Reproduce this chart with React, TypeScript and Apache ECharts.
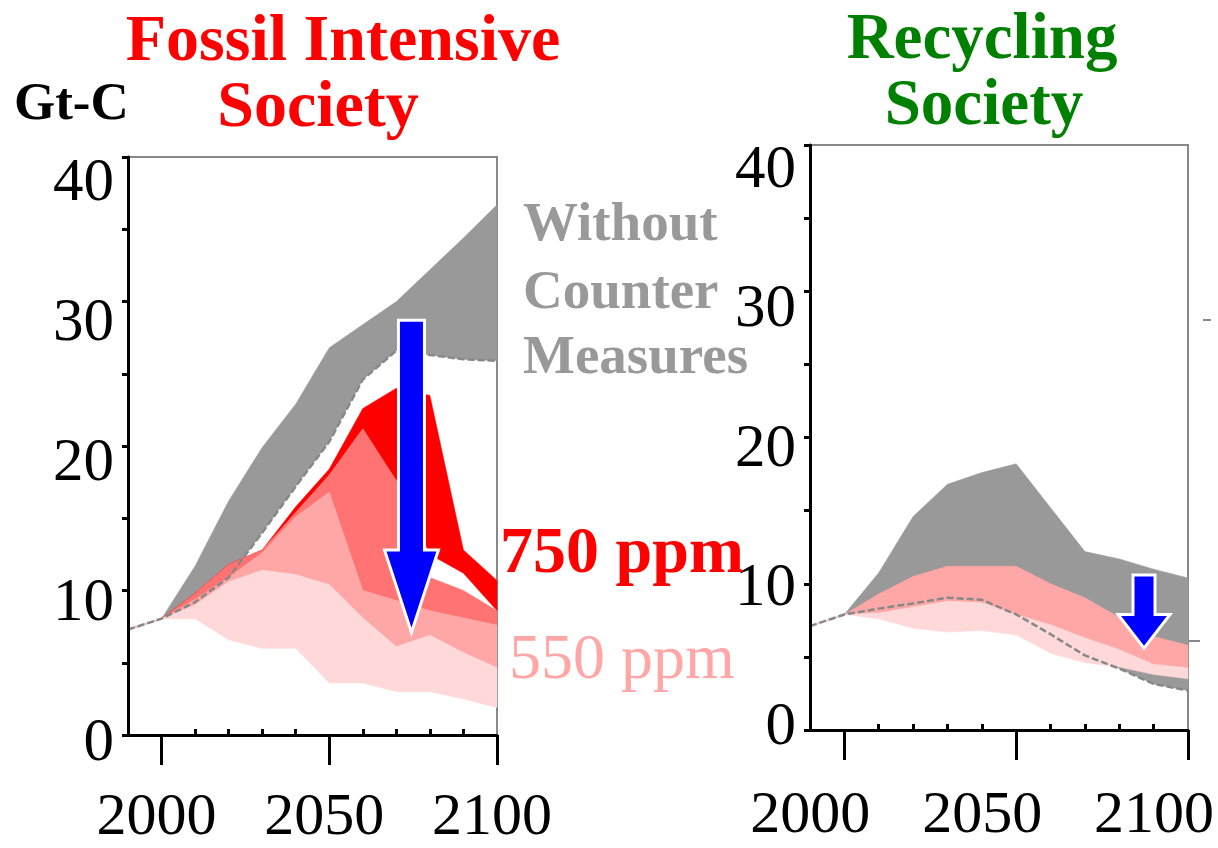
import React, { useEffect, useRef } from "react";
import * as echarts from "echarts";

const years = [1990, 2000, 2010, 2020, 2030, 2040, 2050, 2060, 2070, 2080, 2090, 2100];

// Fossil Intensive Society (Gt-C)
const fossilGrayUpper = [7.3, 8.05, 11.7, 16.2, 19.9, 22.9, 26.8, 28.4, 30.0, 32.2, 34.4, 36.7];
const fossilGrayLower = [7.3, 8.05, 9.2, 10.9, 14.0, 17.2, 20.3, 24.6, 26.6, 26.3, 26.0, 25.9];
const fossilRedUpper = [7.3, 8.05, 9.8, 11.8, 12.8, 15.8, 18.4, 22.6, 24.0, 23.5, 12.8, 10.7];
const fossilRedLower = [7.3, 8.05, 9.8, 11.8, 12.8, 15.4, 18.0, 21.2, 17.6, 12.5, 11.2, 8.6];
const fossilSalmonUpper = [7.3, 8.05, 9.8, 11.8, 12.8, 15.4, 18.0, 21.2, 17.6, 10.9, 10.0, 8.6];
const fossilLightUpper = [7.3, 8.05, 9.4, 10.9, 12.6, 15.1, 16.8, 10.0, 9.3, 8.6, 8.1, 7.6];
const fossilPaleUpper = [7.3, 8.05, 9.0, 10.6, 11.4, 11.1, 10.4, 8.1, 6.1, 6.9, 5.7, 4.65];
const fossilPaleLower = [7.3, 8.05, 8.05, 6.6, 6.0, 6.0, 3.6, 3.6, 3.0, 3.0, 2.5, 1.9];

// Recycling Society (Gt-C)
const recycleGrayUpper = [7.1, 7.9, 10.75, 14.6, 16.8, 17.6, 18.2, 15.2, 12.2, 11.7, 11.0, 10.4];
const recycleGrayLower = [7.1, 7.9, 8.3, 8.65, 9.05, 8.9, 7.9, 6.55, 5.1, 4.2, 3.15, 2.7];
const recycleLightUpper = [7.1, 7.9, 9.3, 10.5, 11.2, 11.2, 11.2, 10.0, 9.05, 7.7, 6.4, 5.8];
const recyclePaleUpper = [7.1, 7.9, 8.0, 8.4, 8.8, 8.7, 7.9, 7.2, 6.3, 5.5, 4.5, 4.25];
const recyclePaleLower = [7.1, 7.9, 7.6, 6.95, 6.7, 6.8, 6.5, 5.25, 4.6, 4.3, 3.8, 3.5];

const majorYears = [2000, 2050, 2100];
const minorYears = [2010, 2020, 2030, 2040, 2060, 2070, 2080, 2090];
const yLabels = [0, 10, 20, 30, 40];

// arrows: [year, top value, head start value, tip value]
const fossilArrow = [2074.5, 28.7, 12.8, 7.1];
const recycleArrow = [2087.2, 10.6, 7.9, 5.6];

const SERIF = "Liberation Serif";
const C_GRAY = "#999999";
const C_RED = "#ff0000";
const C_SALMON = "#ff7373";
const C_LIGHT = "#ffa6a6";
const C_PALE = "#ffd9d9";

function band(lower: number[], upper: number[], color: string, gi: number) {
  return {
    type: "custom",
    xAxisIndex: gi * 2,
    yAxisIndex: gi * 2,
    silent: true,
    data: years.map((y, i) => [y, lower[i], upper[i]]),
    encode: { x: 0, y: [1, 2] },
    renderItem: (params: any, api: any) => {
      if (params.dataIndexInside !== 0) return null;
      const n = params.dataInsideLength;
      const top: number[][] = [];
      const bottom: number[][] = [];
      for (let i = 0; i < n; i++) {
        const x = api.value(0, i);
        top.push(api.coord([x, api.value(2, i)]));
        bottom.push(api.coord([x, api.value(1, i)]));
      }
      return {
        type: "polygon",
        shape: { points: top.concat(bottom.reverse()) },
        style: { fill: color, stroke: color, lineWidth: 0.5 },
      };
    },
  };
}

function dashed(vals: number[], gi: number) {
  return {
    type: "line",
    xAxisIndex: gi * 2,
    yAxisIndex: gi * 2,
    data: years.map((y, i) => [y, vals[i]]),
    symbol: "none",
    lineStyle: { color: "#888888", width: 2.5, type: [7, 3] },
    silent: true,
    z: 5,
  };
}

function xAxes(gi: number) {
  return [
    {
      type: "value",
      gridIndex: gi,
      min: 1990,
      max: 2100,
      axisLine: { show: true, lineStyle: { color: "#000", width: 3 } },
      axisTick: { show: true, customValues: majorYears, length: 30, lineStyle: { color: "#000", width: 3 } },
      axisLabel: { show: false },
      splitLine: { show: false },
      z: 10,
    },
    {
      type: "value",
      gridIndex: gi,
      min: 1990,
      max: 2100,
      axisLine: { show: false },
      axisTick: { show: true, customValues: minorYears, length: 6, lineStyle: { color: "#000", width: 3 } },
      axisLabel: { show: false },
      splitLine: { show: false },
      z: 10,
    },
  ];
}

function yAxes(gi: number) {
  return [
    {
      type: "value",
      gridIndex: gi,
      min: 0,
      max: 40,
      interval: 5,
      axisLine: { show: true, lineStyle: { color: "#000", width: 3 } },
      axisTick: { show: true, length: 6, lineStyle: { color: "#000", width: 3 } },
      axisLabel: { show: false },
      splitLine: { show: false },
      z: 10,
    },
    {
      type: "value",
      gridIndex: gi,
      min: 0,
      max: 40,
      show: false,
    },
  ];
}

// invisible grids that only carry the y tick labels
function yLabelAxes(gi: number) {
  return {
    x: { type: "value", gridIndex: gi, min: 0, max: 1, show: false },
    y: {
      type: "value",
      gridIndex: gi,
      min: 0,
      max: 40,
      interval: 10,
      axisLine: { show: false },
      axisTick: { show: false },
      splitLine: { show: false },
      axisLabel: {
        show: true,
        customValues: yLabels,
        fontSize: 61,
        lineHeight: 50,
        fontFamily: SERIF,
        color: "#000",
        margin: 14,
      },
    },
  };
}

// invisible grids that only carry the x tick labels
function xLabelAxes(gi: number, margin: number) {
  return {
    x: {
      type: "value",
      gridIndex: gi,
      min: 1990,
      max: 2100,
      axisLine: { show: false },
      axisTick: { show: false },
      splitLine: { show: false },
      axisLabel: {
        show: true,
        customValues: majorYears,
        fontSize: 60,
        lineHeight: 46,
        fontFamily: SERIF,
        color: "#000",
        margin,
        hideOverlap: false,
        formatter: (v: number) => String(v),
      },
    },
    y: { type: "value", gridIndex: gi, min: 0, max: 1, show: false },
  };
}

function text(t: string, x: number, y: number, size: number, color: string, weight: string, align = "left") {
  return {
    type: "text",
    x,
    y,
    silent: true,
    z: 50,
    style: {
      text: t,
      fill: color,
      fontSize: size,
      fontFamily: SERIF,
      fontWeight: weight,
      lineHeight: Math.round(size * 0.85),
      align,
      verticalAlign: "middle",
    },
  };
}

function arrowPoints(chart: any, gi: number, a: number[], shaftHalf: number, headHalf: number) {
  const top = chart.convertToPixel({ gridIndex: gi }, [a[0], a[1]]);
  const head = chart.convertToPixel({ gridIndex: gi }, [a[0], a[2]]);
  const tip = chart.convertToPixel({ gridIndex: gi }, [a[0], a[3]]);
  const cx = top[0];
  return [
    [cx - shaftHalf, top[1]],
    [cx + shaftHalf, top[1]],
    [cx + shaftHalf, head[1]],
    [cx + headHalf, head[1]],
    [cx, tip[1]],
    [cx - headHalf, head[1]],
    [cx - shaftHalf, head[1]],
  ];
}

export default function App() {
  const ref = useRef<HTMLDivElement>(null);
  useEffect(() => {
    if (!ref.current) return;
    const chart = echarts.init(ref.current, null, { renderer: "svg" });
    const ly0 = yLabelAxes(2);
    const ly1 = yLabelAxes(3);
    const lx0 = xLabelAxes(4, 56);
    const lx1 = xLabelAxes(5, 59);
    const texts: any[] = [
      text("Fossil Intensive", 343, 37, 66, C_RED, "bold", "center"),
      text("Society", 318, 103, 66, C_RED, "bold", "center"),
      text("Recycling", 982, 36, 65, "#008000", "bold", "center"),
      text("Society", 984, 102, 65, "#008000", "bold", "center"),
      text("Gt-C", 14, 101, 53, "#000", "bold", "left"),
      text("Without", 523, 221, 55, C_GRAY, "bold", "left"),
      text("Counter", 523, 289, 55, C_GRAY, "bold", "left"),
      text("Measures", 523, 354, 55, C_GRAY, "bold", "left"),
      text("750 ppm", 500, 549, 66, C_RED, "bold", "left"),
      text("550 ppm", 509, 656, 64, C_LIGHT, "normal", "left"),
      { type: "line", silent: true, shape: { x1: 1203, y1: 320, x2: 1211, y2: 320 }, style: { stroke: "#888", lineWidth: 2 } },
      { type: "line", silent: true, shape: { x1: 1188, y1: 641, x2: 1200, y2: 641 }, style: { stroke: "#888", lineWidth: 2 } },
    ];
    const gridBase = { outerBoundsMode: "none", containLabel: false };
    const option: any = {
      animation: false,
      backgroundColor: "#fff",
      grid: [
        { ...gridBase, left: 128, top: 157, width: 369, height: 578, show: true, borderColor: "#888", borderWidth: 2, backgroundColor: "transparent" },
        { ...gridBase, left: 810, top: 145, width: 378, height: 585, show: true, borderColor: "#888", borderWidth: 2, backgroundColor: "transparent" },
        { ...gridBase, left: 128, top: 179.6, width: 10, height: 560 },
        { ...gridBase, left: 810, top: 166.6, width: 10, height: 556.8 },
        { ...gridBase, left: 123, top: 725, width: 369, height: 10 },
        { ...gridBase, left: 776, top: 720, width: 378, height: 10 },
      ],
      xAxis: [...xAxes(0), ...xAxes(1), ly0.x, ly1.x, lx0.x, lx1.x],
      yAxis: [...yAxes(0), ...yAxes(1), ly0.y, ly1.y, lx0.y, lx1.y],
      series: [
        band(fossilGrayLower, fossilGrayUpper, C_GRAY, 0),
        band(fossilRedLower, fossilRedUpper, C_RED, 0),
        band(fossilLightUpper, fossilSalmonUpper, C_SALMON, 0),
        band(fossilPaleUpper, fossilLightUpper, C_LIGHT, 0),
        band(fossilPaleLower, fossilPaleUpper, C_PALE, 0),
        dashed(fossilGrayLower, 0),
        band(recycleGrayLower, recycleGrayUpper, C_GRAY, 1),
        band(recyclePaleUpper, recycleLightUpper, C_LIGHT, 1),
        band(recyclePaleLower, recyclePaleUpper, C_PALE, 1),
        dashed(recycleGrayLower, 1),
      ],
      graphic: texts,
    };
    chart.setOption(option);
    const arrows = [
      arrowPoints(chart, 0, fossilArrow, 13, 27),
      arrowPoints(chart, 1, recycleArrow, 11, 26),
    ].map((pts) => ({
      type: "polygon",
      silent: true,
      z: 100,
      shape: { points: pts },
      style: { fill: "#0000ff", stroke: "#ffffff", lineWidth: 3 },
    }));
    chart.setOption({ graphic: [...texts, ...arrows] });
    return () => chart.dispose();
  }, []);
  return <div ref={ref} style={{ position: "absolute", left: 0, top: 0, width: 1218, height: 848 }} />;
}
